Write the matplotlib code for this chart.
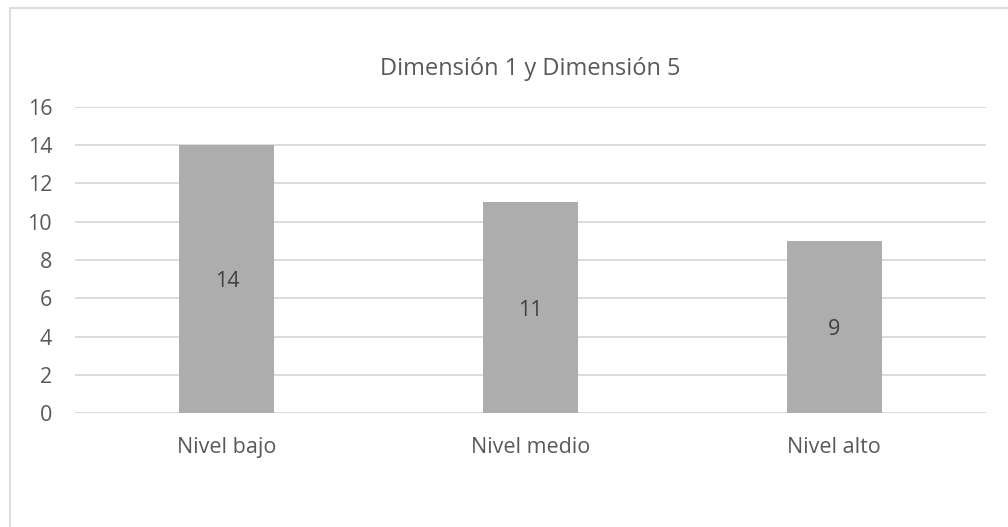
import matplotlib
matplotlib.use("Agg")
import matplotlib.pyplot as plt
from matplotlib.lines import Line2D

categories = ["Nivel bajo", "Nivel medio", "Nivel alto"]
values = [14, 11, 9]
yticks = [0, 2, 4, 6, 8, 10, 12, 14, 16]
title = "Dimensión 1 y Dimensión 5"

plt.rcParams['font.family'] = ['Open Sans', 'DejaVu Sans']
W, H = 1008, 527
fig = plt.figure(figsize=(W / 100, H / 100), dpi=100)
fig.patch.set_facecolor("white")

# outer chart border (top and left visible)
fig.add_artist(Line2D([10 / W, 1.0], [1 - 7.5 / H, 1 - 7.5 / H], color="#D9D9D9", lw=1.3, transform=fig.transFigure))
fig.add_artist(Line2D([10 / W, 10 / W], [0, 1 - 7.5 / H], color="#D9D9D9", lw=1.3, transform=fig.transFigure))

left, right = 75 / W, 986 / W
bottom, top = 1 - 413.3 / H, 1 - 106.5 / H
ax = fig.add_axes([left, bottom, right - left, top - bottom])

x = list(range(len(categories)))
bars = ax.bar(x, values, width=0.313, color="#ADADAD", zorder=2)
ax.set_xlim(-0.5, len(categories) - 0.5)
ax.set_ylim(0, 16)
ax.set_yticks(yticks)
ax.set_yticklabels([str(t) for t in yticks])
ax.set_xticks(x)
ax.set_xticklabels(categories)
ax.tick_params(axis="both", length=0, labelsize=15.5, colors="#595959")
ax.tick_params(axis="y", pad=16.5)
ax.tick_params(axis="x", pad=17)
ax.grid(axis="y", color="#D9D9D9", lw=1.3, zorder=0)
for s in ax.spines.values():
    s.set_visible(False)

for b, v in zip(bars, values):
    ax.text(b.get_x() + b.get_width() / 2, v / 2, str(v), ha="center", va="center_baseline",
            fontsize=15.5, color="#404040", zorder=3)

fig.text((left + right) / 2, 1 - 69 / H, title, ha="center", va="center", fontsize=17, color="#595959")

fig.savefig("out.png", dpi=100)
